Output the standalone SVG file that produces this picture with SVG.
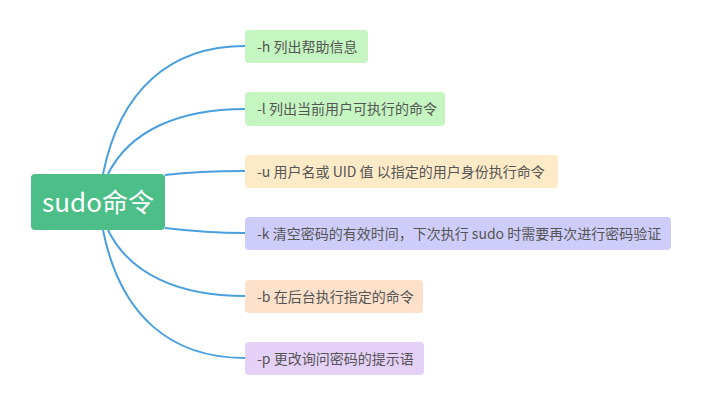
<svg xmlns="http://www.w3.org/2000/svg" width="705" height="406" viewBox="0 0 705 406">
<style>
.t{font-family:"Noto Sans CJK SC","Noto Sans",sans-serif;font-size:14px;fill:#555555}
.root{font-family:"Noto Sans CJK SC","Noto Sans",sans-serif;font-size:26px;fill:#ffffff}
.c{fill:none;stroke:#4a9fe0;stroke-width:2}
</style>
<rect width="705" height="406" fill="#ffffff"/>
<g id="connectors">
<path class="c" d="M103,174 C120,90 170,46 245,46"/>
<path class="c" d="M108,174 C130,130 180,109 245,109"/>
<path class="c" d="M165,175 C190,172 215,171 245,171"/>
<path class="c" d="M165,228 C190,231 215,233 245,233"/>
<path class="c" d="M108,230 C130,275 180,296 245,296"/>
<path class="c" d="M103,230 C120,315 170,358 245,358"/>
</g>
<g id="root">
<rect x="31" y="174" width="134" height="56" rx="4" fill="#4cbf88"/>
<text class="root" x="98" y="212" text-anchor="middle">sudo命令</text>
</g>
<g id="node-h">
<rect x="245" y="30" width="123" height="33" rx="4" fill="#c5f5c1"/>
<text class="t" x="257" y="51.5">-h 列出帮助信息</text>
</g>
<g id="node-l">
<rect x="245" y="92" width="200" height="34" rx="4" fill="#c5f5c1"/>
<text class="t" x="257" y="114">-l 列出当前用户可执行的命令</text>
</g>
<g id="node-u">
<rect x="245" y="155" width="313" height="33" rx="4" fill="#fdebc8"/>
<text class="t" x="257" y="176.5">-u 用户名或 UID 值 以指定的用户身份执行命令</text>
</g>
<g id="node-k">
<rect x="245" y="217" width="426" height="33" rx="4" fill="#cecdf9"/>
<text class="t" x="257" y="238.5">-k 清空密码的有效时间，下次执行 sudo 时需要再次进行密码验证</text>
</g>
<g id="node-b">
<rect x="245" y="280" width="178" height="33" rx="4" fill="#fde1cb"/>
<text class="t" x="257" y="301.5">-b 在后台执行指定的命令</text>
</g>
<g id="node-p">
<rect x="245" y="342" width="179" height="33" rx="4" fill="#e5d1f8"/>
<text class="t" x="257" y="363.5">-p 更改询问密码的提示语</text>
</g>
</svg>
